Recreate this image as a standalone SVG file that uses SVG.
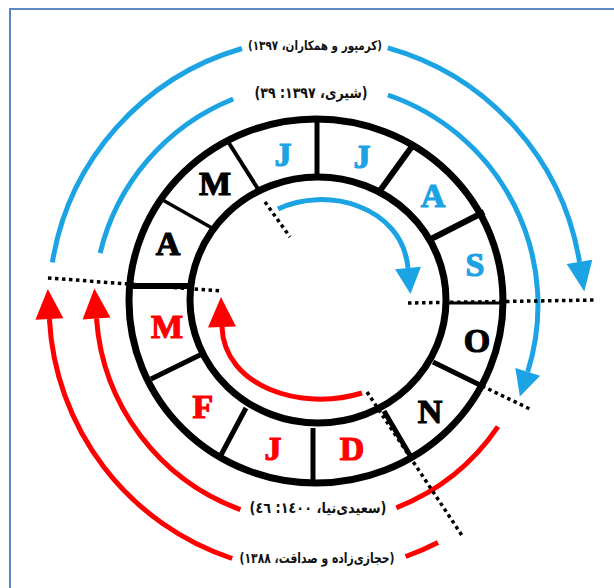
<svg xmlns="http://www.w3.org/2000/svg" width="614" height="588" viewBox="0 0 614 588">
<style>
.bl{fill:none;stroke:#1CA3E3;stroke-width:5}
.rd{fill:none;stroke:#FF0000;stroke-width:5}
.ring{fill:none;stroke:#000;stroke-width:7}
.div{stroke:#000;stroke-width:5;stroke-linecap:butt}
.dot{stroke:#000;stroke-width:3.5;stroke-dasharray:3.5 3.5;fill:none}
.mo{font-family:"Liberation Serif",serif;font-weight:bold;font-size:34px;text-anchor:middle;stroke-width:1.2}
.lb{font-family:"DejaVu Sans",sans-serif;font-weight:bold;text-anchor:middle;fill:#111}
</style>
<defs>
<marker id="hb" markerUnits="userSpaceOnUse" orient="auto" overflow="visible" markerWidth="30" markerHeight="28" refX="0" refY="0"><polygon points="0,-13 30,0 0,13" fill="#1CA3E3"/></marker>
<marker id="hbs" markerUnits="userSpaceOnUse" orient="auto" overflow="visible" markerWidth="30" markerHeight="28" refX="0" refY="0"><polygon points="0,-13 26,0 0,13" fill="#1CA3E3"/></marker>
<marker id="hr" markerUnits="userSpaceOnUse" orient="auto" overflow="visible" markerWidth="30" markerHeight="30" refX="0" refY="0"><polygon points="0,-14 30,0 0,14" fill="#FF0000"/></marker>
</defs>
<path d="M10,588 V9 H614" fill="none" stroke="#5B87C6" stroke-width="2"/>
<g id="connectors">
<path class="bl" d="M52.4,262.3 A267,267 0 0 1 242,48.5"/>
<path class="bl" d="M387.8,47.8 A267,267 0 0 1 579.5,261.9" marker-end="url(#hb)"/>
<path class="bl" d="M100.1,253.2 A222,222 0 0 1 233.2,99"/>
<path class="bl" d="M387.9,95 A222,222 0 0 1 527.7,371.8" marker-end="url(#hbs)"/>
<path class="rd" d="M232.2,558.5 A267,267 0 0 1 49.4,319" marker-end="url(#hr)"/>
<path class="rd" d="M438,542.5 A267,267 0 0 1 405.6,556.5"/>
<path class="rd" d="M240.4,509.6 A220,220 0 0 1 96.5,318.4" marker-end="url(#hr)"/>
<path class="rd" d="M498,426.7 A220,220 0 0 1 396.3,507.8"/>
<path class="bl" d="M278,209 C325,186 402,205 408,268" marker-end="url(#hbs)"/>
<path class="rd" d="M362,393 C300,412 224,386 222,327" marker-end="url(#hr)"/>
<line class="dot" x1="48" y1="278" x2="222" y2="291"/>
<line class="dot" x1="408" y1="303" x2="597" y2="300"/>
<line class="dot" x1="265" y1="202" x2="290" y2="237"/>
<line class="dot" x1="482" y1="386" x2="532" y2="410"/>
<line class="dot" x1="367" y1="392" x2="463" y2="537"/>
</g>
<g id="ring">
<ellipse class="ring" cx="316" cy="301" rx="187" ry="182"/>
<ellipse class="ring" cx="318" cy="300" rx="128" ry="123"/>
<line class="div" x1="317" y1="118" x2="317" y2="180"/>
<line class="div" x1="227" y1="140" x2="258" y2="189" style="stroke-width:4"/>
<line class="div" x1="161" y1="199" x2="212" y2="228" style="stroke-width:3.5"/>
<line class="div" x1="127" y1="286" x2="192" y2="286" style="stroke-width:6"/>
<line class="div" x1="151" y1="379" x2="202" y2="354"/>
<line class="div" x1="221" y1="455" x2="246" y2="408"/>
<line class="div" x1="313" y1="428" x2="313" y2="485"/>
<line class="div" x1="384" y1="411" x2="411" y2="457"/>
<line class="div" x1="433" y1="362" x2="482" y2="386"/>
<line class="div" x1="445" y1="303" x2="505" y2="303" style="stroke-width:3"/>
<line class="div" x1="431" y1="239" x2="484" y2="212" style="stroke-width:6"/>
<line class="div" x1="379" y1="192" x2="413" y2="145" style="stroke-width:6"/>
</g>
<g id="months">
<text class="mo" x="215" y="195" fill="#000" stroke="#000">M</text>
<text class="mo" x="283" y="166" fill="#1CA3E3" stroke="#1CA3E3">J</text>
<text class="mo" x="362" y="168" fill="#1CA3E3" stroke="#1CA3E3">J</text>
<text class="mo" x="433" y="207" fill="#1CA3E3" stroke="#1CA3E3">A</text>
<text class="mo" x="475" y="276" fill="#1CA3E3" stroke="#1CA3E3">S</text>
<text class="mo" x="477" y="352" fill="#000" stroke="#000">O</text>
<text class="mo" x="430" y="423" fill="#000" stroke="#000">N</text>
<text class="mo" x="352" y="460" fill="#FF0000" stroke="#FF0000">D</text>
<text class="mo" x="273" y="460" fill="#FF0000" stroke="#FF0000">J</text>
<text class="mo" x="203" y="418" fill="#FF0000" stroke="#FF0000">F</text>
<text class="mo" x="167" y="338" fill="#FF0000" stroke="#FF0000">M</text>
<text class="mo" x="168" y="255" fill="#000" stroke="#000">A</text>
</g>
<g id="labels">
<text class="lb" x="315" y="50" font-size="13" direction="rtl" textLength="134" lengthAdjust="spacingAndGlyphs">(کرمپور و همکاران، ۱۳۹۷)</text>
<text class="lb" x="311" y="98" font-size="15" direction="rtl" textLength="113" lengthAdjust="spacingAndGlyphs">(شیری، ۱۳۹۷: ۳۹)</text>
<text class="lb" x="318" y="513" font-size="15" direction="rtl" textLength="137" lengthAdjust="spacingAndGlyphs">(سعیدی‌نیا، ١٤٠٠: ٤٦)</text>
<text class="lb" x="317" y="563" font-size="14" direction="rtl" textLength="155" lengthAdjust="spacingAndGlyphs">(حجازی‌زاده و صداقت، ۱۳۸۸)</text>
</g>
</svg>
